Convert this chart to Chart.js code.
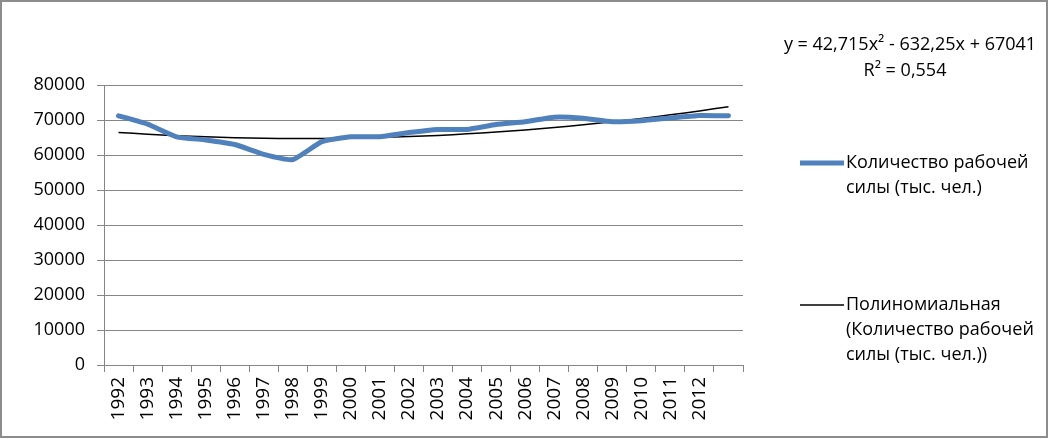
<!DOCTYPE html>
<html>
<head>
<meta charset="utf-8">
<script src="https://cdn.jsdelivr.net/npm/chart.js@4"></script>
<style>
  html, body { margin:0; padding:0; background:#fff; }
  #wrap { width:1049px; height:439px; position:relative; }
</style>
</head>
<body>
<div id="wrap"><canvas id="laborChart" width="1049" height="439"></canvas></div>
<script>
// ---------- data ----------
const years = ["1992","1993","1994","1995","1996","1997","1998","1999","2000","2001",
               "2002","2003","2004","2005","2006","2007","2008","2009","2010","2011","2012",""];

const laborForce = [71200,68800,65200,64300,63000,60200,58700,63800,65200,65200,
                    66400,67300,67300,68700,69500,70800,70500,69500,69800,70600,71300,71200];

// trend values (y = 42,715x² - 632,25x + 67041)
const trendValues = [66451,65947,65529,65195,64948,64785,64708,64717,64811,64990,
                     65255,65605,66041,66562,67168,67860,68637,69500,70448,71482,72601,73805];

const yTicks = [0,10000,20000,30000,40000,50000,60000,70000,80000];

const legendLines = [
  ["Количество рабочей", "силы (тыс. чел.)"],
  ["Полиномиальная", "(Количество рабочей", "силы (тыс. чел.))"]
];
const equationLines = ["y = 42,715x² - 632,25x + 67041", "R² = 0,554"];

const FONT = "'Open Sans', 'DejaVu Sans', sans-serif";

// ---------- extra drawing: legend, equation, frame ----------
const extras = {
  id: 'extras',
  afterDraw(chart) {
    const c = chart.ctx;
    c.save();

    // frame
    c.strokeStyle = '#8c8c8c';
    c.lineWidth = 2;
    c.strokeRect(1, 1, 1046, 436);

    // equation
    c.fillStyle = '#000';
    c.font = "18px " + FONT;
    c.textAlign = 'center';
    c.textBaseline = 'middle';
    c.fillText(equationLines[0], 910, 45);
    c.fillText(equationLines[1], 905, 71);

    // legend
    const ys = [163, 305];
    chart.data.datasets.forEach((ds, i) => {
      const y = ys[i];
      c.strokeStyle = ds.borderColor;
      c.lineWidth = ds.borderWidth;
      c.lineCap = 'butt';
      c.beginPath();
      c.moveTo(800, y);
      c.lineTo(844, y);
      c.stroke();
      c.fillStyle = '#000';
      c.textAlign = 'left';
      legendLines[i].forEach((t, k) => c.fillText(t, 846, y + k * 25));
    });

    c.restore();
  }
};

// ---------- chart ----------
const ctx = document.getElementById('laborChart');

new Chart(ctx, {
  type: 'line',
  data: {
    labels: years,
    datasets: [
      {
        label: 'Количество рабочей силы (тыс. чел.)',
        data: laborForce,
        borderColor: '#4f81bd',
        borderWidth: 5,
        pointRadius: 0,
        tension: 0.15,
        borderCapStyle: 'round'
      },
      {
        label: 'Полиномиальная (Количество рабочей силы (тыс. чел.))',
        data: trendValues,
        borderColor: '#000000',
        borderWidth: 1.5,
        pointRadius: 0,
        tension: 0.4
      }
    ]
  },
  options: {
    responsive: false,
    animation: false,
    layout: { padding: { left: 0, top: 85, right: 306, bottom: 0 } },
    plugins: {
      legend: { display: false },
      tooltip: { enabled: false }
    },
    scales: {
      x: {
        offset: true,
        grid: {
          offset: true,
          drawOnChartArea: false,
          drawTicks: true,
          tickLength: 7,
          color: '#868686'
        },
        border: { color: '#868686', width: 1 },
        ticks: {
          color: '#000',
          font: { family: FONT, size: 19 },
          minRotation: 90,
          maxRotation: 90,
          autoSkip: false,
          padding: 5
        },
        afterFit(scale) { scale.height = 74; }
      },
      y: {
        min: 0,
        max: 80000,
        afterBuildTicks(scale) { scale.ticks = yTicks.map(v => ({ value: v })); },
        grid: { color: '#868686', tickLength: 7 },
        border: { color: '#868686', width: 1 },
        ticks: {
          color: '#000',
          font: { family: FONT, size: 18 },
          padding: 12,
          callback: v => String(v)
        },
        afterFit(scale) { scale.width = 104; }
      }
    }
  },
  plugins: [extras]
});
</script>
</body>
</html>
